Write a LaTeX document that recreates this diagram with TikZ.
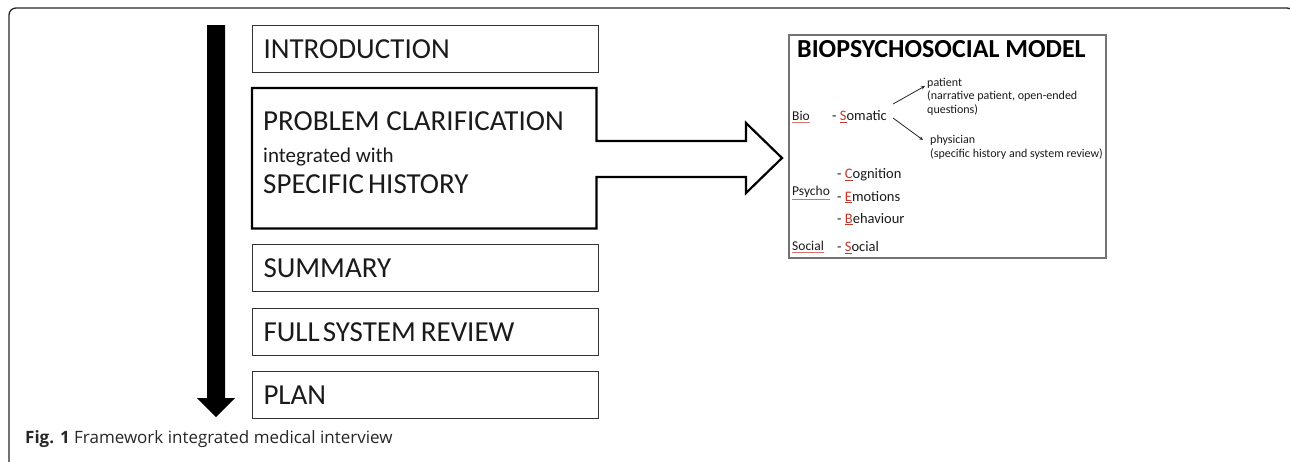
\documentclass[tikz,border=0pt]{standalone}
\usepackage{fontspec}
\setmainfont{Carlito}
\newfontfamily\capfont{Open Sans}
\usetikzlibrary{arrows.meta}
\definecolor{txt}{HTML}{1A1A1A}
\definecolor{sqred}{HTML}{C0392B}
\newcommand{\squig}[1]{{\color{sqred!70}\underline{\color{txt}#1}}}
\newcommand{\redini}[1]{{\color{sqred}\underline{#1}}}
\tikzset{
  stage/.style={draw=black!80, line width=1pt, anchor=north west, minimum width=346pt,
    minimum height=47pt, text width=324pt, align=left, inner xsep=11pt,
    font=\fontsize{29}{30}\selectfont, text=txt},
  bigtxt/.style={anchor=base west, inner sep=0pt, font=\fontsize{29}{30}\selectfont, text=txt},
  midtxt/.style={anchor=base west, inner sep=0pt, font=\fontsize{21}{22}\selectfont, text=txt},
  cat/.style={anchor=west, inner sep=0pt, font=\fontsize{13.5}{15}\selectfont, text=txt},
  item/.style={anchor=west, inner sep=0pt, font=\fontsize{14.5}{16}\selectfont, text=txt},
  small/.style={anchor=north west, inner sep=0pt, align=left, font=\fontsize{12}{13.5}\selectfont, text=txt},
  thin/.style={-{Stealth[length=4pt,width=3.5pt]}, line width=0.8pt, draw=black!85}
}
\begin{document}
\begin{tikzpicture}[x=1pt,y=-1pt]
\useasboundingbox (0,0) rectangle (1290,461);
\clip (0,0) rectangle (1290,461);
% outer frame
\draw[line width=1.3pt, rounded corners=7pt, black!85] (9,480) -- (9,8) -- (1294,8) -- (1294,480);

% big time arrow
\fill[black] (207,25) -- (225,25) -- (225,398) -- (235,398) -- (216,417) -- (197,398) -- (207,398) -- cycle;

% stages
\node[stage] (intro) at (252,25) {INTRODUCTION};
\node[anchor=north west, minimum width=344pt, minimum height=140pt, inner sep=0pt] (prob) at (252,88) {};
\node[stage] (summ) at (252,244) {SUMMARY};
\node[stage] (full) at (252,308) {FULL\hspace{3pt}SYSTEM\hspace{5pt}REVIEW};
\node[stage] (plan) at (252,371) {PLAN};

\node[bigtxt] (p1) at (263,130) {PROBLEM CLARIFICATION};
\node[midtxt] (p2) at (263,162) {integrated with};
\node[bigtxt] (p3) at (263,193) {SPECIFIC\hspace{4pt}HISTORY};

% model box
\node[draw=black!55, line width=1.6pt, anchor=north west, minimum width=317pt,
      minimum height=223pt, inner sep=0pt] (model) at (788,34) {};

% problem box outline with arrow to model
\coordinate (tip) at (model.west |- 0,158);
\draw[line width=2.2pt, black, line join=miter]
  (prob.north west) -- (prob.north east) -- (prob.east |- 0,141) -- (746,141) -- (746,123)
  -- ([xshift=-6pt]tip) -- (746,193) -- (746,177) -- (prob.east |- 0,177)
  -- (prob.south east) -- (prob.south west) -- cycle;

\node[anchor=base west, inner sep=0pt, font=\bfseries\fontsize{26}{28}\selectfont, text=black] (title) at (797,57) {BIOPSYCHOSOCIAL MODEL};

\node[cat] (bio) at (792,117) {\squig{Bio}};
\node[item] (som) at (832,117) {- \redini{S}omatic};
\node[small] (pat) at (927,78) {patient\\(narrative patient, open-ended\\questions)};
\node[small] (phy) at (930,135) {physician\\(specific history and system review)};
\coordinate (sa) at (893,104);
\coordinate (sb) at (893,118);
\coordinate (pa) at (925,86);
\coordinate (ph) at (923,140);
\draw[thin] (sa) -- (pa);
\draw[thin] (sb) -- (ph);

\node[item] (cog) at (837,175) {- \redini{C}ognition};
\node[cat] (psy) at (792,193) {\squig{Psycho}};
\node[item] (emo) at (837,197) {- \redini{E}motions};
\node[item] (beh) at (837,219) {- \redini{B}ehaviour};
\node[cat] (soc) at (792,247) {\squig{Social}};
\node[item] (soc2) at (837,248) {- \redini{S}ocial};

% caption
\node[anchor=base west, inner sep=0pt, font=\capfont\fontsize{17}{18}\selectfont, text=black!85] (cap) at (25,443) {\textbf{Fig. 1} Framework integrated medical interview};
\end{tikzpicture}
\end{document}
